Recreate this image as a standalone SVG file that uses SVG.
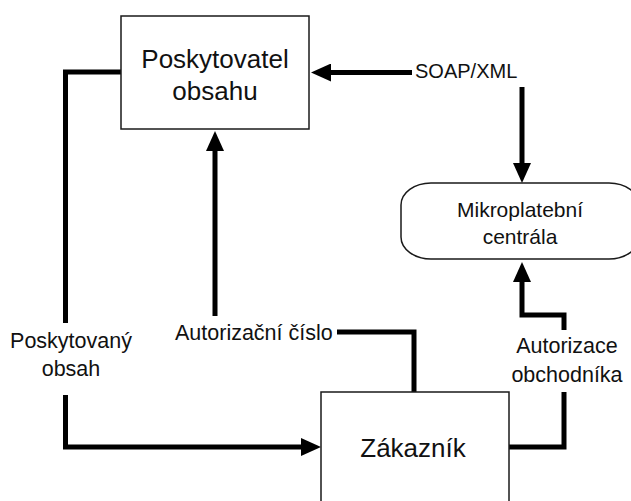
<svg xmlns="http://www.w3.org/2000/svg" width="631" height="501" viewBox="0 0 631 501">
  <style>
    .box { fill: #ffffff; stroke: #1a1a1a; stroke-width: 1.5; }
    .wire { fill: none; stroke: #000000; stroke-width: 5; stroke-linejoin: miter; stroke-linecap: butt; }
    .lbl { font-family: "Liberation Sans", Arial, sans-serif; fill: #111111; }
    .big { font-size: 26px; text-anchor: middle; }
    .mid { font-size: 21px; text-anchor: middle; }
    .edge { font-size: 21.5px; }
  </style>
  <defs>
    <marker id="head" viewBox="0 0 20 18" refX="2" refY="9" markerWidth="20" markerHeight="18" markerUnits="userSpaceOnUse" orient="auto">
      <path d="M0,0 L20,9 L0,18 Z" fill="#000000"/>
    </marker>
  </defs>

  <rect width="631" height="501" fill="#ffffff"/>

  <!-- connectors -->
  <g id="connectors">
    <!-- SOAP/XML to content provider -->
    <path class="wire" d="M412,72.5 H329" marker-end="url(#head)"/>
    <!-- SOAP/XML to payment centre -->
    <path class="wire" d="M522,87 V165" marker-end="url(#head)"/>
    <!-- provided content: provider to customer -->
    <path class="wire" d="M121,72 H65.5 V323"/>
    <path class="wire" d="M65.5,395 V447 H303" marker-end="url(#head)"/>
    <!-- authorisation number: customer to provider -->
    <path class="wire" d="M215,316 V149" marker-end="url(#head)"/>
    <path class="wire" d="M337,332 H414 V392"/>
    <!-- merchant authorisation: customer to payment centre -->
    <path class="wire" d="M509,447 H564 V392"/>
    <path class="wire" d="M564,330 V315 H522 V280" marker-end="url(#head)"/>
  </g>

  <!-- nodes -->
  <g id="provider">
    <rect class="box" x="121" y="16" width="188" height="113"/>
    <text class="lbl big" x="215" y="68">Poskytovatel</text>
    <text class="lbl big" x="215" y="100">obsahu</text>
  </g>

  <g id="payment-centre">
    <path class="box" d="M431,183 H609 A30,22 0 0 1 639,205 V237 A30,22 0 0 1 609,259 H431 A30,22 0 0 1 401,237 V205 A30,22 0 0 1 431,183 Z"/>
    <text class="lbl mid" x="520" y="217">Mikroplatební</text>
    <text class="lbl mid" x="520" y="244">centrála</text>
  </g>

  <g id="customer">
    <rect class="box" x="321" y="392" width="188" height="130"/>
    <text class="lbl big" x="413" y="457">Zákazník</text>
  </g>

  <!-- connector labels -->
  <g id="labels">
    <text class="lbl" font-size="20" x="415" y="78">SOAP/XML</text>
    <text class="lbl edge" x="175" y="340">Autorizační číslo</text>
    <text class="lbl edge" text-anchor="middle" x="71" y="348">Poskytovaný</text>
    <text class="lbl edge" text-anchor="middle" x="71" y="376">obsah</text>
    <text class="lbl edge" text-anchor="middle" x="567" y="353">Autorizace</text>
    <text class="lbl edge" text-anchor="middle" x="567" y="382">obchodníka</text>
  </g>
</svg>
